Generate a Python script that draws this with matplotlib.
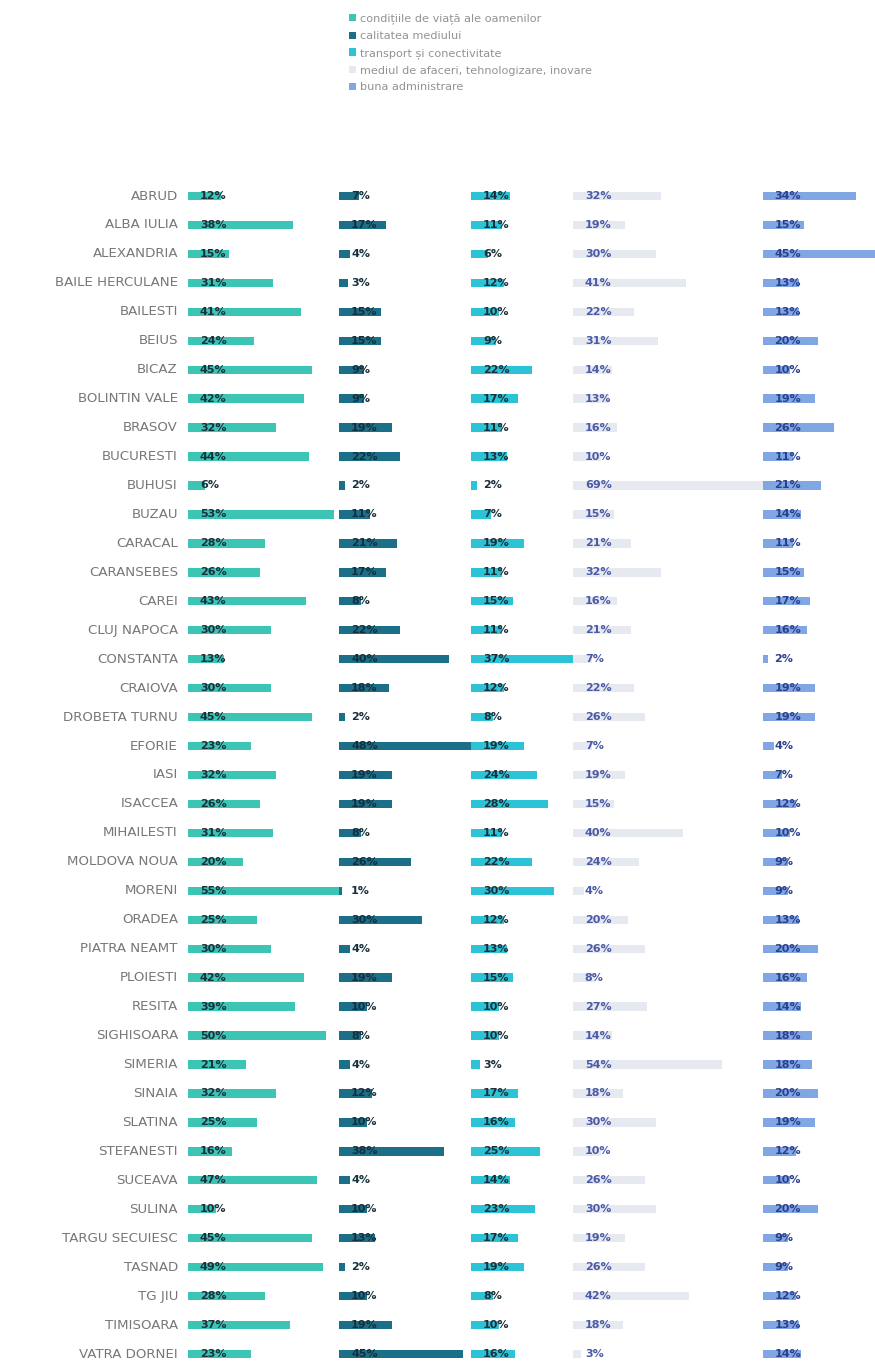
import matplotlib
matplotlib.use("Agg")
import matplotlib.pyplot as plt
from matplotlib.patches import Patch

cities = ["ABRUD", "ALBA IULIA", "ALEXANDRIA", "BAILE HERCULANE", "BAILESTI", "BEIUS",
          "BICAZ", "BOLINTIN VALE", "BRASOV", "BUCURESTI", "BUHUSI", "BUZAU", "CARACAL",
          "CARANSEBES", "CAREI", "CLUJ NAPOCA", "CONSTANTA", "CRAIOVA", "DROBETA TURNU",
          "EFORIE", "IASI", "ISACCEA", "MIHAILESTI", "MOLDOVA NOUA", "MORENI", "ORADEA",
          "PIATRA NEAMT", "PLOIESTI", "RESITA", "SIGHISOARA", "SIMERIA", "SINAIA",
          "SLATINA", "STEFANESTI", "SUCEAVA", "SULINA", "TARGU SECUIESC", "TASNAD",
          "TG JIU", "TIMISOARA", "VATRA DORNEI"]

categories = ["condițiile de viață ale oamenilor", "calitatea mediului",
              "transport și conectivitate", "mediul de afaceri, tehnologizare, inovare",
              "buna administrare"]

conditii = [12, 38, 15, 31, 41, 24, 45, 42, 32, 44, 6, 53, 28, 26, 43, 30, 13, 30, 45,
            23, 32, 26, 31, 20, 55, 25, 30, 42, 39, 50, 21, 32, 25, 16, 47, 10, 45, 49,
            28, 37, 23]
mediu = [7, 17, 4, 3, 15, 15, 9, 9, 19, 22, 2, 11, 21, 17, 8, 22, 40, 18, 2,
         48, 19, 19, 8, 26, 1, 30, 4, 19, 10, 8, 4, 12, 10, 38, 4, 10, 13, 2,
         10, 19, 45]
transport = [14, 11, 6, 12, 10, 9, 22, 17, 11, 13, 2, 7, 19, 11, 15, 11, 37, 12, 8,
             19, 24, 28, 11, 22, 30, 12, 13, 15, 10, 10, 3, 17, 16, 25, 14, 23, 17, 19,
             8, 10, 16]
afaceri = [32, 19, 30, 41, 22, 31, 14, 13, 16, 10, 69, 15, 21, 32, 16, 21, 7, 22, 26,
           7, 19, 15, 40, 24, 4, 20, 26, 8, 27, 14, 54, 18, 30, 10, 26, 30, 19, 26,
           42, 18, 3]
administrare = [34, 15, 45, 13, 13, 20, 10, 19, 26, 11, 21, 14, 11, 15, 17, 16, 2, 19, 19,
                4, 7, 12, 10, 9, 9, 13, 20, 16, 14, 18, 18, 20, 19, 12, 10, 20, 9, 9,
                12, 13, 14]

series = [conditii, mediu, transport, afaceri, administrare]
bar_colors = ["#3cc5b5", "#1c6f88", "#2cc3d6", "#e7e9f1", "#80a7e4"]
text_colors = ["#1b2f3a", "#14303c", "#1b2f3a", "#4a5aa8", "#2b3f8f"]

W, H = 875, 1366
fig = plt.figure(figsize=(W / 100, H / 100), dpi=100)

left_px = 188
px_per_unit = 2.75
row0_px = 196
row_step = 28.95
n = len(cities)

ax = fig.add_axes([left_px / W, 0, 1 - left_px / W, 1])
ax.set_xlim(0, (W - left_px) / px_per_unit)
ax.set_ylim((H - row0_px) / row_step, -row0_px / row_step)
ax.axis("off")

rows = list(range(n))
offset = 0
for vals, bc, tc in zip(series, bar_colors, text_colors):
    ax.barh(rows, vals, left=offset, height=0.29, color=bc, edgecolor="none")
    for i, v in enumerate(vals):
        ax.text(offset + 4.3, i, f"{v}%", va="center", ha="left", fontsize=8,
                fontweight="bold", color=tc)
    offset += max(vals)

for i, c in enumerate(cities):
    ax.text(-10 / px_per_unit, i, c, ha="right", va="center", fontsize=9.6,
            color="#777777", clip_on=False)

handles = [Patch(facecolor=c, edgecolor="none") for c in bar_colors]
fig.legend(handles, categories, loc="upper left",
           bbox_to_anchor=(343 / W, 1 - 8 / H), frameon=False, fontsize=8.1,
           labelcolor="#929292", handlelength=0.65, handleheight=0.65,
           handletextpad=0.4, labelspacing=0.6, borderpad=0)

fig.savefig("out.png", dpi=100)
